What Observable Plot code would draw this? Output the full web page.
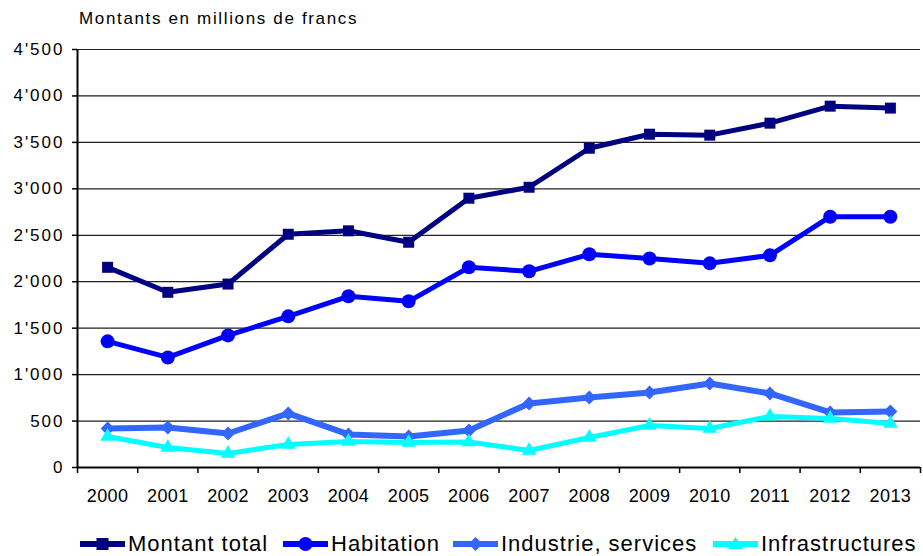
<!DOCTYPE html>
<html>
<head>
<meta charset="utf-8">
<script src="https://cdn.jsdelivr.net/npm/d3@7"></script>
<script src="https://cdn.jsdelivr.net/npm/@observablehq/plot@0.6"></script>
<style>
  html, body { margin: 0; padding: 0; background: #fff; }
  body { width: 923px; height: 556px; overflow: hidden; font-family: "Liberation Sans", Arial, sans-serif; color: #000; }
  #title { height: 36px; line-height: 38px; padding-left: 79px; font-size: 17px; letter-spacing: 1.65px; white-space: nowrap; }
  #chart svg { display: block; }
  #chart g[aria-label="y-axis tick label"] { letter-spacing: 2px; }
  #chart g[aria-label="x-axis tick label"] { letter-spacing: 0.4px; }
  #legend { position: relative; height: 40px; }
  .item { position: absolute; top: 15px; display: flex; align-items: center; white-space: nowrap; }
  .item span { font-size: 22px; letter-spacing: 1px; margin-left: 3px; }
</style>
</head>
<body>
<div id="title">Montants en millions de francs</div>
<div id="chart"></div>
<div id="legend"></div>
<script>
const years = [2000, 2001, 2002, 2003, 2004, 2005, 2006, 2007, 2008, 2009, 2010, 2011, 2012, 2013];
const montantTotal = [2155, 1886, 1975, 2511, 2548, 2425, 2899, 3017, 3437, 3588, 3578, 3707, 3890, 3869];
const habitation = [1358, 1185, 1422, 1627, 1843, 1789, 2155, 2112, 2295, 2250, 2198, 2284, 2700, 2700];
const industrie = [420, 431, 366, 582, 356, 334, 399, 690, 754, 808, 905, 797, 593, 603];
const infrastructures = [334, 216, 151, 248, 280, 269, 275, 183, 323, 452, 420, 550, 528, 474];
const seriesNames = ["Montant total", "Habitation", "Industrie, services", "Infrastructures"];
const seriesColors = ["#000080", "#0000FF", "#3366FF", "#00FFFF"];
const seriesSymbols = ["square", "circle", "diamond2", "triangle"];
const yTicks = [0, 500, 1000, 1500, 2000, 2500, 3000, 3500, 4000, 4500];

const seriesValues = [montantTotal, habitation, industrie, infrastructures];
const dotR = [6.2, 7, 6.3, 5.4];
const lineW = [5, 5, 6, 5];

const fmt = d3.formatLocale({decimal: ".", thousands: "'", grouping: [3], currency: ["", ""]}).format(",");
const boundaries = [...years.map(y => y - 0.5), years[years.length - 1] + 0.5];

const seriesMarks = [];
seriesNames.forEach((name, i) => {
  const rows = years.map((year, j) => ({year, value: seriesValues[i][j], series: name}));
  seriesMarks.push(Plot.line(rows, {x: "year", y: "value", stroke: seriesColors[i], strokeWidth: lineW[i], strokeLinejoin: "miter", strokeLinecap: "butt"}));
  seriesMarks.push(Plot.dot(rows, {x: "year", y: "value", symbol: () => seriesSymbols[i], fill: seriesColors[i], stroke: "none", r: dotR[i]}));
});

const chart = Plot.plot({
  width: 923,
  height: 480,
  marginTop: 13,
  marginBottom: 49,
  marginLeft: 77,
  marginRight: 3,
  x: {type: "linear", domain: [years[0] - 0.5, years[years.length - 1] + 0.5]},
  y: {domain: [0, 4500]},
  symbol: {type: "identity"},
  style: {fontFamily: "'Liberation Sans', Arial, sans-serif", fontSize: "17px", color: "#000", background: "#fff"},
  marks: [
    Plot.gridY(yTicks, {stroke: "#222", strokeOpacity: 1, strokeWidth: 1.2}),
    Plot.axisY(yTicks, {tickFormat: fmt, tickSize: 5, tickPadding: 8, label: null, stroke: "#000", strokeWidth: 1.5, fontSize: 17}),
    Plot.axisX(years, {tickFormat: d => String(d), tickSize: 0, tickPadding: 22, label: null, fontSize: 18}),
    Plot.axisX(boundaries, {tickFormat: () => "", tickSize: 6, label: null, stroke: "#000", strokeWidth: 1.5}),
    Plot.ruleX([years[0] - 0.5], {stroke: "#000", strokeWidth: 2}),
    Plot.ruleY([0], {stroke: "#000", strokeWidth: 2}),
    ...seriesMarks
  ]
});
document.getElementById("chart").appendChild(chart);

// Legend
const legendLefts = [80, 283, 453, 713];
const shapes = {
  square: (c) => `<rect x="16.5" y="5" width="12" height="12" fill="${c}"/>`,
  circle: (c) => `<circle cx="22.5" cy="11" r="7" fill="${c}"/>`,
  diamond2: (c) => `<path d="M22.5 4 L29.5 11 L22.5 18 L15.5 11 Z" fill="${c}"/>`,
  triangle: (c) => `<path d="M22.5 4 L30 16 L15 16 Z" fill="${c}"/>`
};
const legend = document.getElementById("legend");
seriesNames.forEach((name, i) => {
  const div = document.createElement("div");
  div.className = "item";
  div.style.left = legendLefts[i] + "px";
  div.innerHTML = `<svg width="45" height="22"><line x1="0" x2="45" y1="11" y2="11" stroke="${seriesColors[i]}" stroke-width="6"/>${shapes[seriesSymbols[i]](seriesColors[i])}</svg><span>${name}</span>`;
  legend.appendChild(div);
});
</script>
</body>
</html>
